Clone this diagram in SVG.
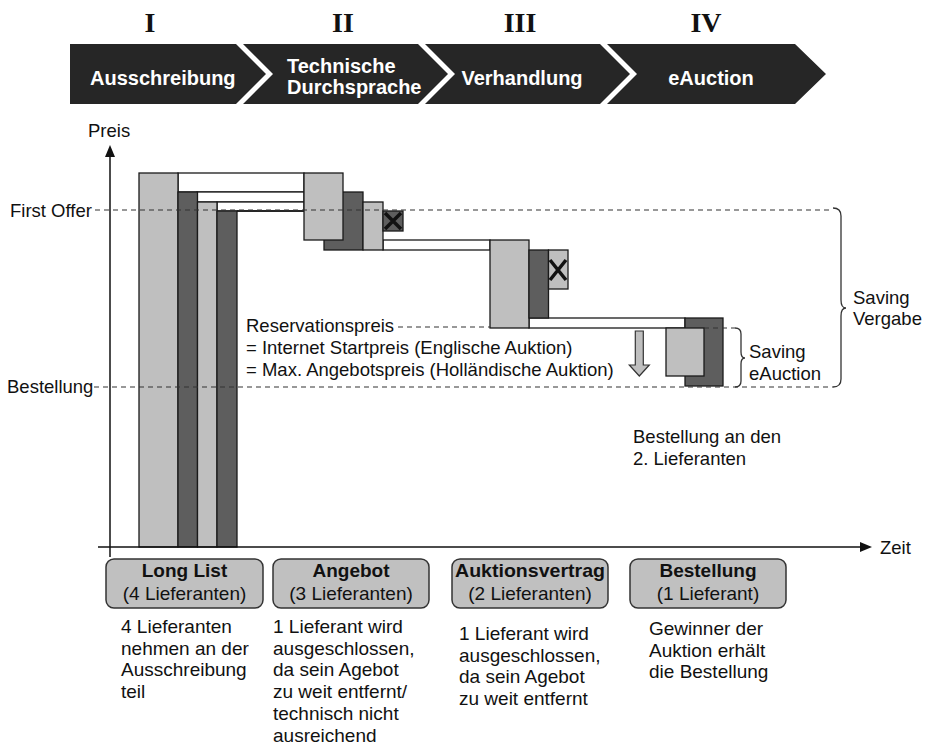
<svg xmlns="http://www.w3.org/2000/svg" width="930" height="748" viewBox="0 0 930 748">
<defs>
<style>
.t{font-family:"Liberation Sans",Arial,sans-serif;font-size:18.5px;fill:#111}
.d{font-family:"Liberation Sans",Arial,sans-serif;font-size:19px;fill:#111}
.bt{font-family:"Liberation Sans",Arial,sans-serif;font-size:19px;fill:#111;text-anchor:middle}
.bb{font-weight:bold}
.w{font-family:"Liberation Sans",Arial,sans-serif;font-size:20px;font-weight:bold;fill:#fff}
.rn{font-family:"Liberation Serif","Times New Roman",serif;font-size:28px;font-weight:bold;fill:#111;text-anchor:middle}
.chev{fill:#262626}
.lt{fill:#bfbfbf;stroke:#1a1a1a;stroke-width:1.3}
.dk{fill:#5e5e5e;stroke:#1a1a1a;stroke-width:1.3}
.wh{fill:#fff;stroke:#1a1a1a;stroke-width:1.3}
.x{stroke:#111;stroke-width:3.5;fill:none}
.dash{stroke:#333;stroke-width:1.2;stroke-dasharray:5 4;fill:none}
.ax{stroke:#111;stroke-width:1.5;fill:none}
.br{stroke:#333;stroke-width:1.3;fill:none}
.box{fill:#c0c0c0;stroke:#333;stroke-width:1.5}
</style>
</defs>
<rect width="930" height="748" fill="#fff"/>

<g id="phases">
<text class="rn" x="150" y="32">I</text>
<text class="rn" x="343" y="32">II</text>
<text class="rn" x="520" y="32">III</text>
<text class="rn" x="706" y="32">IV</text>
<g id="phase1"><path class="chev" d="M70,44 H236 L266,74 L236,104 H70 Z"/><text class="w" x="90" y="85">Ausschreibung</text></g>
<g id="phase2"><path class="chev" d="M243,44 H418 L448,74 L418,104 H243 L273,74 Z"/><text class="w" x="287" y="73">Technische</text><text class="w" x="287" y="94">Durchsprache</text></g>
<g id="phase3"><path class="chev" d="M425,44 H600 L630,74 L600,104 H425 L455,74 Z"/><text class="w" x="522" y="85" text-anchor="middle">Verhandlung</text></g>
<g id="phase4"><path class="chev" d="M607,44 H795 L826,74 L795,104 H607 L637,74 Z"/><text class="w" x="711" y="85" text-anchor="middle">eAuction</text></g>
</g>

<g id="connectors">
<rect class="wh" x="178" y="173" width="126" height="19"/>
<rect class="wh" x="197" y="192" width="107" height="10"/>
<rect class="wh" x="217" y="202" width="87" height="9"/>
<line class="ax" x1="237" y1="211" x2="304" y2="211" style="stroke-width:1.3"/>
<rect class="wh" x="383" y="240" width="107" height="10"/>
<rect class="wh" x="529" y="318" width="156" height="10"/>
</g>

<g id="stage1-bars">
<rect class="lt" x="139" y="173" width="39" height="374"/>
<rect class="dk" x="178" y="192" width="19.5" height="355"/>
<rect class="lt" x="197.5" y="202" width="19.5" height="345"/>
<rect class="dk" x="217" y="211" width="20" height="336"/>
</g>

<g id="stage2-bars">
<rect class="dk" x="324" y="192" width="39" height="58"/>
<rect class="lt" x="304" y="173" width="39" height="67"/>
<rect class="lt" x="363" y="202" width="20" height="48"/>
<rect class="dk" x="383" y="211" width="20" height="20"/>
<path class="x" d="M385,213 L401,229 M401,213 L385,229"/>
</g>

<g id="stage3-bars">
<rect class="lt" x="490" y="240" width="39" height="88"/>
<rect class="dk" x="529" y="250" width="19.5" height="68"/>
<rect class="lt" x="548.5" y="250" width="19.5" height="39"/>
<path class="x" d="M550,260 L566,280 M566,260 L550,280"/>
</g>

<g id="stage4-bars">
<rect class="dk" x="685" y="318" width="38" height="68"/>
<rect class="lt" x="666" y="328" width="38" height="48"/>
</g>

<g id="down-arrow">
<path d="M635.3,331 H643.3 V365 H649.3 L639.3,376 L629.3,365 H635.3 Z" fill="#bfbfbf" stroke="#333" stroke-width="1.2"/>
</g>

<g id="axes">
<line class="ax" x1="110" y1="557" x2="110" y2="155"/>
<polygon points="110,145 105,157 115,157" fill="#111"/>
<line class="ax" x1="98" y1="547" x2="861" y2="547"/>
<polygon points="872,547 860,542 860,552" fill="#111"/>
<text class="t" x="88" y="137">Preis</text>
<text class="t" x="880" y="554">Zeit</text>
</g>

<g id="levels">
<path class="dash" d="M95,210 H833"/>
<path class="dash" d="M94,387 H833"/>
<path class="dash" d="M398,327 H490"/>
<path class="dash" d="M704,328 H735"/>
<text class="t" x="10" y="217">First Offer</text>
<text class="t" x="7" y="393">Bestellung</text>
<text class="t" x="246" y="332">Reservationspreis</text>
<text class="t" x="246" y="354">= Internet Startpreis (Englische Auktion)</text>
<text class="t" x="246" y="376">= Max. Angebotspreis (Holländische Auktion)</text>
</g>

<g id="saving-vergabe">
<path class="br" d="M833,208 Q841,208 841,216 L841,300 Q841,308 846,308 Q841,308 841,316 L841,379 Q841,387 833,387"/>
<text class="t" x="853" y="304">Saving</text>
<text class="t" x="853" y="325">Vergabe</text>
</g>

<g id="saving-eauction">
<path class="br" d="M735,328 Q741,328 741,334 L741,352 Q741,358 745,358 Q741,358 741,364 L741,381 Q741,387 735,387"/>
<text class="t" x="749" y="358">Saving</text>
<text class="t" x="749" y="380">eAuction</text>
</g>

<g id="note-bestellung">
<text class="t" x="633" y="443">Bestellung an den</text>
<text class="t" x="633" y="465">2. Lieferanten</text>
</g>

<g id="box-longlist">
<rect class="box" x="106" y="559" width="157" height="49" rx="8"/>
<text class="bt bb" x="184.5" y="577">Long List</text>
<text class="bt" x="184.5" y="600">(4 Lieferanten)</text>
<text class="d" x="121"><tspan x="121" y="633">4 Lieferanten</tspan><tspan x="121" y="654.7">nehmen an der</tspan><tspan x="121" y="676.4">Ausschreibung</tspan><tspan x="121" y="698.1">teil</tspan></text>
</g>

<g id="box-angebot">
<rect class="box" x="273" y="559" width="156" height="49" rx="8"/>
<text class="bt bb" x="351" y="577">Angebot</text>
<text class="bt" x="351" y="600">(3 Lieferanten)</text>
<text class="d"><tspan x="273" y="633">1 Lieferant wird</tspan><tspan x="273" y="654.7">ausgeschlossen,</tspan><tspan x="273" y="676.4">da sein Agebot</tspan><tspan x="273" y="698.1">zu weit entfernt/</tspan><tspan x="273" y="719.8">technisch nicht</tspan><tspan x="273" y="741.5">ausreichend</tspan></text>
</g>

<g id="box-auktionsvertrag">
<rect class="box" x="452" y="559" width="156" height="49" rx="8"/>
<text class="bt bb" x="530" y="577" textLength="150" lengthAdjust="spacingAndGlyphs">Auktionsvertrag</text>
<text class="bt" x="530" y="600">(2 Lieferanten)</text>
<text class="d"><tspan x="459" y="640">1 Lieferant wird</tspan><tspan x="459" y="661.7">ausgeschlossen,</tspan><tspan x="459" y="683.4">da sein Agebot</tspan><tspan x="459" y="705.1">zu weit entfernt</tspan></text>
</g>

<g id="box-bestellung">
<rect class="box" x="630" y="559" width="156" height="49" rx="8"/>
<text class="bt bb" x="708" y="577">Bestellung</text>
<text class="bt" x="708" y="600">(1 Lieferant)</text>
<text class="d"><tspan x="649" y="635">Gewinner der</tspan><tspan x="649" y="656.7">Auktion erhält</tspan><tspan x="649" y="678.4">die Bestellung</tspan></text>
</g>
</svg>
